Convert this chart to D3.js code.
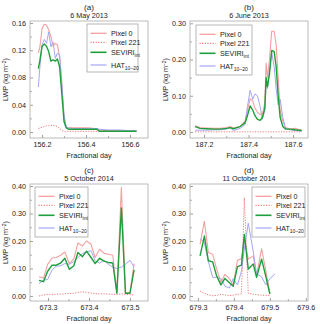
<!DOCTYPE html>
<html><head><meta charset="utf-8">
<script src="https://cdn.jsdelivr.net/npm/d3@7"></script>
<style>body{margin:0;background:#fff}svg{display:block;font-family:"Liberation Sans",Arial,sans-serif}</style>
</head><body><svg id="c" width="320" height="324"></svg>
<script>
// ---------- data ----------
const seriesNames = ["Pixel 0", "Pixel 221", "SEVIRI", "HAT"];

const tA = [156.183,156.19,156.20,156.21,156.22,156.23,156.24,156.25,156.26,156.27,156.28,156.29,156.30,156.31,156.32,156.35,156.38,156.41,156.44,156.45,156.46,156.50,156.55,156.60,156.63];
const p0A  = [0.116,0.125,0.152,0.158,0.157,0.150,0.140,0.126,0.130,0.128,0.110,0.070,0.020,0.007,0.006,0.006,0.006,0.006,0.005,0.005,0.003,0.002,0.002,0.001,0.001];
const p221A= [0.005,0.006,0.007,0.008,0.009,0.0095,0.0098,0.0097,0.009,0.008,0.005,0.002,0.001,0.001,0.001,0.001,0.001,0.001,0.001,0.001,0.001,null,null,null,null];
const sevA = [0.093,0.105,0.126,0.129,0.126,0.118,0.104,0.106,0.104,0.107,0.095,0.055,0.015,0.006,0.004,0.004,0.004,0.004,0.004,0.004,0.001,0.001,0.001,0.001,0.001];
const hatA = [0.066,0.095,0.128,0.136,0.130,0.147,0.125,0.132,0.108,0.116,0.112,0.070,0.025,0.007,0.006,0.005,0.005,0.005,0.005,0.005,0.004,0.003,0.003,0.002,0.002];

const tB = [187.160,187.182,187.212,187.242,187.272,187.302,187.317,187.332,187.362,187.384,187.395,187.407,187.419,187.429,187.440,187.452,187.462,187.473,187.479,187.485,187.494,187.504,187.515,187.524,187.533,187.542,187.554,187.566,187.587,187.609,187.639];
const p0B  = [0.017,0.012,0.011,0.010,0.010,0.012,0.015,0.011,0.015,0.030,0.060,0.092,0.085,0.065,0.055,0.048,0.050,0.080,0.190,0.150,0.200,0.278,0.278,0.240,0.150,0.060,0.030,0.012,0.008,0.010,0.004];
const p221B= [0.0005,0.0005,0.0005,0.0005,0.0005,0.0005,0.0005,0.0005,0.0005,0.0005,0.0005,0.0005,0.0005,0.0005,0.0005,0.0005,0.0005,0.0005,0.0005,0.0005,0.0005,0.0005,0.0005,0.0005,0.0005,0.0005,0.0005,0.0005,0.0005,0.0005,0.0005];
const sevB = [0.015,0.010,0.009,0.008,0.008,0.010,0.012,0.009,0.015,0.025,0.045,0.072,0.060,0.045,0.035,0.032,0.040,0.065,0.150,0.125,0.160,0.225,0.222,0.180,0.100,0.040,0.015,0.008,0.008,0.006,0.004];
const hatB = [0.005,0.005,0.005,0.006,0.006,0.008,0.012,0.004,0.010,0.020,0.070,0.115,0.090,0.105,0.100,0.070,0.035,0.060,0.140,0.120,0.170,0.220,0.180,0.120,0.075,0.090,0.040,0.010,0.006,0.004,0.002];

const tC = [673.278,673.289,673.299,673.310,673.320,673.331,673.341,673.352,673.363,673.373,673.384,673.394,673.405,673.415,673.426,673.437,673.447,673.458,673.468,673.479,673.489,673.500,673.510];
const p0C  = [0.070,0.065,0.115,0.138,0.140,0.148,0.160,0.118,0.135,0.193,0.182,0.200,0.188,0.140,0.170,0.155,0.152,0.148,0.012,0.395,0.012,0.012,0.118];
const p221C= [0.000,0.004,0.006,0.006,0.006,0.007,0.008,0.009,0.010,0.013,0.015,0.013,0.010,0.009,0.008,0.008,0.007,0.006,0.006,0.008,0.006,0.005,0.004];
const sevC = [0.057,0.052,0.090,0.112,0.112,0.120,0.137,0.097,0.110,0.158,0.143,0.163,0.140,0.118,0.137,0.127,0.122,0.120,0.010,0.320,0.010,0.010,0.095];
const hatC = [0.045,0.058,0.060,0.095,0.108,0.110,0.118,0.115,0.125,0.140,0.155,0.160,0.165,0.128,0.120,0.130,0.115,0.105,0.100,0.105,0.115,0.130,0.105];

const tD = [679.306,679.318,679.329,679.341,679.352,679.364,679.375,679.387,679.398,679.410,679.421,679.429,679.440,679.454,679.463,679.477,679.489,679.500,679.514];
const p0D  = [0.188,0.272,0.158,0.152,0.098,0.049,0.079,0.064,0.040,0.130,0.135,0.210,0.134,0.146,0.073,0.172,0.090,0.011,null];
const p221D= [0.018,0.010,0.004,0.001,0.002,0.006,0.004,0.001,0.003,0.006,0.008,0.358,0.010,0.006,0.005,0.003,0.002,0.002,null];
const sevD = [0.146,0.218,0.128,0.124,0.073,0.040,0.064,0.049,0.035,0.107,0.112,0.224,0.098,0.116,0.068,0.134,0.070,0.007,null];
const hatD = [0.208,0.195,0.125,0.068,0.068,0.063,0.036,0.029,0.063,0.040,0.090,0.170,0.265,0.160,0.080,0.070,0.040,0.063,0.080];

const titles = ["(a)","(b)","(c)","(d)"];
const dates = ["6 May 2013","6 June 2013","5 October 2014","11 October 2014"];
const xTicksA = [156.2,156.4,156.6], xTicksB = [187.2,187.4,187.6], xTicksC = [673.3,673.4,673.5], xTicksD = [679.3,679.4,679.5,679.6];
const yTicksA = [0,0.04,0.08,0.12,0.16], yTicksB = [0,0.1,0.2,0.3], yTicksC = [0,0.1,0.2,0.3,0.4], yTicksD = [0,0.1,0.2,0.3,0.4];

// ---------- layout ----------
const panels = [
  {t:tA, s:[p0A,p221A,sevA,hatA], xd:[156.145,156.682], yd:[-0.0088,0.1629], xt:xTicksA, xm:[156.3,156.5], yt:yTicksA, ym:[0.02,0.06,0.10,0.14], L:30, T:21, leg:[87,24,51,48]},
  {t:tB, s:[p0B,p221B,sevB,hatB], xd:[187.137,187.667], yd:[-0.0166,0.3063], xt:xTicksB, xm:[187.3,187.5], yt:yTicksB, ym:[0.05,0.15,0.25], L:190, T:21, leg:[196,25,56,50]},
  {t:tC, s:[p0C,p221C,sevC,hatC], xd:[673.256,673.544], yd:[-0.0182,0.4073], xt:xTicksC, xm:[673.35,673.45], yt:yTicksC, ym:[0.05,0.15,0.25,0.35], L:30, T:184, leg:[35,187,53,50]},
  {t:tD, s:[p0D,p221D,sevD,hatD], xd:[679.278,679.606], yd:[-0.0182,0.4073], xt:xTicksD, xm:[679.35,679.45,679.55], yt:yTicksD, ym:[0.05,0.15,0.25,0.35], L:190, T:184, leg:[252,187,53,50]}
];
const W = 118, H = 117;
const styles = [
  {c:"#f5a0a0", w:1.1, d:null},
  {c:"#f07a7a", w:1.0, d:"1.2,1.4"},
  {c:"#1f9e3c", w:1.4, d:null},
  {c:"#a6a6f5", w:1.0, d:null}
];
const drawOrder = [0,1,3,2];

const svg = d3.select("#c");
const fmt = d3.format(".2f");

panels.forEach((p, k) => {
  const g = svg.append("g");
  const x = d3.scaleLinear().domain(p.xd).range([p.L, p.L + W]);
  const y = d3.scaleLinear().domain(p.yd).range([p.T + H, p.T]);
  const cx = p.L + W / 2;

  g.append("text").attr("x", cx).attr("y", p.T - 11).attr("text-anchor","middle").attr("font-size", 8).attr("fill","#222").text(titles[k]);
  g.append("text").attr("x", cx).attr("y", p.T - 3).attr("text-anchor","middle").attr("font-size", 7.2).attr("fill","#222").text(dates[k]);

  // axes
  const ax = g.append("g").attr("transform", `translate(0,${p.T + H})`)
    .call(d3.axisBottom(x).tickValues(p.xt).tickSize(-3).tickPadding(4).tickFormat(d3.format(".1f")));
  const axm = g.append("g").attr("transform", `translate(0,${p.T + H})`)
    .call(d3.axisBottom(x).tickValues(p.xm).tickSize(-1.8).tickFormat(""));
  const ay = g.append("g").attr("transform", `translate(${p.L},0)`)
    .call(d3.axisLeft(y).tickValues(p.yt).tickSize(-3).tickPadding(4).tickFormat(fmt));
  const aym = g.append("g").attr("transform", `translate(${p.L},0)`)
    .call(d3.axisLeft(y).tickValues(p.ym).tickSize(-1.8).tickFormat(""));
  [ax, axm, ay, aym].forEach(a => {
    a.select(".domain").remove();
    a.selectAll("line").attr("stroke", "#777").attr("stroke-width", 0.7);
    a.selectAll("text").attr("font-size", 7.2).attr("fill", "#222").attr("font-family", '"Liberation Sans",Arial,sans-serif');
  });

  // frame
  g.append("rect").attr("x", p.L).attr("y", p.T).attr("width", W).attr("height", H)
    .attr("fill", "none").attr("stroke", "#aaa").attr("stroke-width", 0.8);

  // axis titles
  const yl = g.append("text").attr("transform", `translate(${p.L - 22},${p.T + H / 2}) rotate(-90)`)
    .attr("text-anchor", "middle").attr("font-size", 7.2).attr("fill", "#222");
  yl.append("tspan").text("LWP (kg m");
  yl.append("tspan").attr("dy", -2.5).attr("font-size", 5).text("−2");
  yl.append("tspan").attr("dy", 2.5).text(")");
  g.append("text").attr("x", cx).attr("y", p.T + H + 20).attr("text-anchor", "middle")
    .attr("font-size", 7.2).attr("fill", "#222").text("Fractional day");

  // lines
  const clip = "clip" + k;
  svg.append("clipPath").attr("id", clip).append("rect").attr("x", p.L).attr("y", p.T).attr("width", W).attr("height", H);
  const line = d3.line().defined(d => d.v != null).x(d => x(d.t)).y(d => y(d.v));
  drawOrder.forEach(si => {
    const data = p.t.map((t, i) => ({t: t, v: p.s[si][i]}));
    const st = styles[si];
    g.append("path").datum(data).attr("clip-path", `url(#${clip})`)
      .attr("d", line).attr("fill", "none").attr("stroke", st.c).attr("stroke-width", st.w)
      .attr("stroke-dasharray", st.d).attr("stroke-linejoin", "round");
  });

  // legend
  const [lx, ly, lw, lh] = p.leg;
  const lg = g.append("g");
  lg.append("rect").attr("x", lx).attr("y", ly).attr("width", lw).attr("height", lh)
    .attr("fill", "#fff").attr("stroke", "#999").attr("stroke-width", 0.7);
  const rows = [9.3, 18.3, 28.3, 41];
  seriesNames.forEach((nm, si) => {
    const ry = ly + rows[si];
    const st = styles[si];
    lg.append("line").attr("x1", lx + 3.5).attr("x2", lx + 19.5).attr("y1", ry).attr("y2", ry)
      .attr("stroke", st.c).attr("stroke-width", st.w + 0.2).attr("stroke-dasharray", st.d);
    const tx = lg.append("text").attr("x", lx + 24).attr("y", ry + 2.5).attr("font-size", 7.2).attr("fill", "#222");
    if (si === 2) {
      tx.append("tspan").text("SEVIRI");
      tx.append("tspan").attr("dy", 2).attr("font-size", 5).text("int");
    } else if (si === 3) {
      tx.append("tspan").text("HAT");
      tx.append("tspan").attr("dy", 2).attr("font-size", 5).text("10–20");
    } else {
      tx.text(nm);
    }
  });
});
</script>
</body></html>
